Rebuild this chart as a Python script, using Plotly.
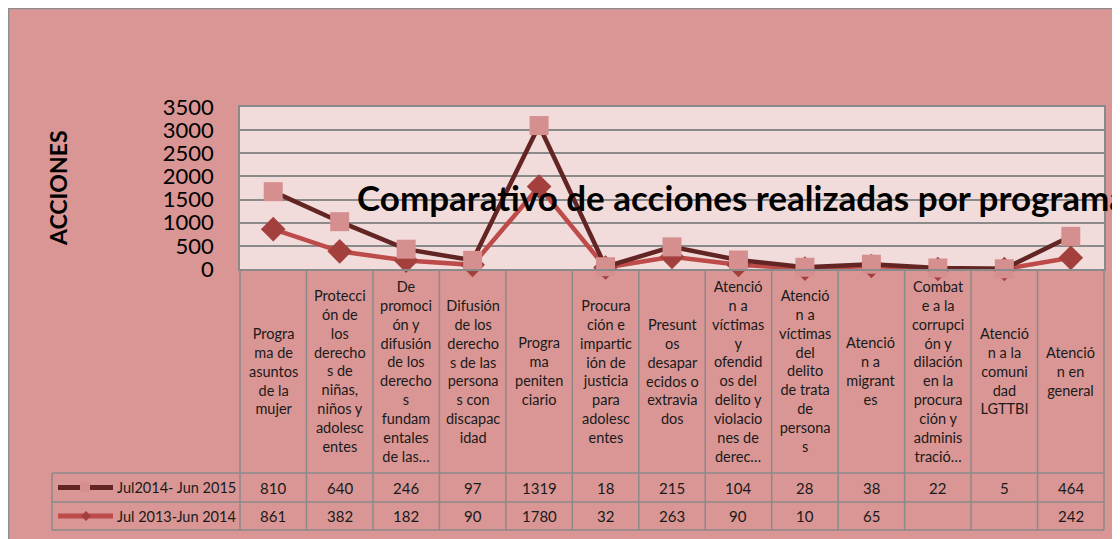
import plotly.graph_objects as go

# page is shown with an 8px body margin: the figure fills the rest of the window
OFF = 8
W, H = 1120 - OFF, 539 - OFF

# ---------------- data ----------------
categories = [
    "Progra<br>ma de<br>asuntos<br>de la<br>mujer",
    "Protecci<br>ón de<br>los<br>derecho<br>s de<br>niñas,<br>niños y<br>adolesc<br>entes",
    "De<br>promoci<br>ón y<br>difusión<br>de los<br>derecho<br>s<br>fundam<br>entales<br>de las…",
    "Difusión<br>de los<br>derecho<br>s de las<br>persona<br>s con<br>discapac<br>idad",
    "Progra<br>ma<br>peniten<br>ciario",
    "Procura<br>ción e<br>impartic<br>ión de<br>justicia<br>para<br>adolesc<br>entes",
    "Presunt<br>os<br>desapar<br>ecidos o<br>extravia<br>dos",
    "Atenció<br>n a<br>víctimas<br>y<br>ofendid<br>os del<br>delito y<br>violacio<br>nes de<br>derec…",
    "Atenció<br>n a<br>víctimas<br>del<br>delito<br>de trata<br>de<br>persona<br>s",
    "Atenció<br>n a<br>migrant<br>es",
    "Combat<br>e a la<br>corrupci<br>ón y<br>dilación<br>en la<br>procura<br>ción y<br>adminis<br>tració…",
    "Atenció<br>n a la<br>comuni<br>dad<br>LGTTBI",
    "Atenció<br>n en<br>general",
]
serie_2015 = [810, 640, 246, 97, 1319, 18, 215, 104, 28, 38, 22, 5, 464]
serie_2014 = [861, 382, 182, 90, 1780, 32, 263, 90, 10, 65, None, None, 242]
name_2015 = "Jul2014- Jun 2015"
name_2014 = "Jul 2013-Jun 2014"
y_ticks = [0, 500, 1000, 1500, 2000, 2500, 3000, 3500]
title_text = "Comparativo de acciones realizadas por programa"
y_title = "ACCIONES"

# ---------------- style ----------------
BG = "#D99694"
PLOT_BG = "#F2DCDB"
GRID = "#8A8A8A"
DARK = "#632523"
RED = "#BC4B49"
RED_M = "#A3403D"
SQ = "#D58F8F"
FONT = "Lato"

# layout positions in window pixels
PL, PR, PT, PB = 240, 1104, 107, 269
LAB_B = 473
ROW1_B = 502
ROW2_B = 530
TBL_L = 52


def px(p):
    return (p - OFF) / W


def py(p):
    return 1 - (p - OFF) / H


n = len(categories)
xs = list(range(n))

fig = go.Figure()
# bottom series (blank cells plotted as zero, like the original chart)
fig.add_trace(go.Scatter(
    x=xs, y=[v if v is not None else 0 for v in serie_2014],
    stackgroup="acc", fill="none", mode="lines+markers",
    line=dict(color=RED, width=4.5),
    marker=dict(symbol="diamond", size=19, color=RED_M),
    name=name_2014, showlegend=False, cliponaxis=False,
))
# stacked series
fig.add_trace(go.Scatter(
    x=xs, y=serie_2015,
    stackgroup="acc", fill="none", mode="lines+markers",
    line=dict(color=DARK, width=4.5),
    marker=dict(symbol="square", size=19, color=SQ),
    name=name_2015, showlegend=False, cliponaxis=False,
))

shapes = []
ann = []

# grid of category/table cells
cw = (PR - PL) / n
for k in range(n + 1):
    xx = PL + k * cw
    shapes.append(dict(type="line", xref="paper", yref="paper",
                       x0=px(xx), x1=px(xx), y0=py(PB), y1=py(ROW2_B),
                       line=dict(color=GRID, width=1.5)))
for yy in (LAB_B, ROW1_B, ROW2_B):
    shapes.append(dict(type="line", xref="paper", yref="paper",
                       x0=px(TBL_L), x1=px(PR), y0=py(yy), y1=py(yy),
                       line=dict(color=GRID, width=1.5)))
shapes.append(dict(type="line", xref="paper", yref="paper",
                   x0=px(TBL_L), x1=px(TBL_L), y0=py(LAB_B), y1=py(ROW2_B),
                   line=dict(color=GRID, width=1.5)))

# legend keys inside the table
r1 = (LAB_B + ROW1_B) / 2
r2 = (ROW1_B + ROW2_B) / 2
shapes.append(dict(type="line", xref="paper", yref="paper",
                   x0=px(58), x1=px(113), y0=py(r1), y1=py(r1),
                   line=dict(color=DARK, width=5)))
shapes.append(dict(type="rect", xref="paper", yref="paper",
                   x0=px(80), x1=px(90), y0=py(r1 + 5), y1=py(r1 - 5),
                   fillcolor=SQ, line=dict(width=0)))
shapes.append(dict(type="line", xref="paper", yref="paper",
                   x0=px(58), x1=px(113), y0=py(r2), y1=py(r2),
                   line=dict(color=RED, width=5)))
cx = 86
shapes.append(dict(type="path", xref="paper", yref="paper",
                   path=f"M {px(cx-5)} {py(r2)} L {px(cx)} {py(r2-5)} L {px(cx+5)} {py(r2)} L {px(cx)} {py(r2+5)} Z",
                   fillcolor=RED_M, line=dict(width=0)))

# outer frame border (top and left)
shapes.append(dict(type="line", xref="paper", yref="paper", x0=0, x1=1, y0=1, y1=1,
                   line=dict(color="#8C8C8C", width=2.5)))
shapes.append(dict(type="line", xref="paper", yref="paper", x0=0, x1=0, y0=0, y1=1,
                   line=dict(color="#8C8C8C", width=2.5)))

# category labels
for i, lab in enumerate(categories):
    ann.append(dict(x=i, xref="x", y=py((PB + LAB_B) / 2), yref="paper",
                    text=lab, showarrow=False, align="center",
                    xanchor="center", yanchor="middle",
                    font=dict(family=FONT, size=14.5, color="#1a1a1a")))

# table values
for row_y, vals in ((r1, serie_2015), (r2, serie_2014)):
    for i, v in enumerate(vals):
        if v is None:
            continue
        ann.append(dict(x=i, xref="x", y=py(row_y), yref="paper",
                        text=str(v), showarrow=False,
                        xanchor="center", yanchor="middle",
                        font=dict(family=FONT, size=15, color="#1a1a1a")))

# legend texts
for row_y, nm in ((r1, name_2015), (r2, name_2014)):
    ann.append(dict(x=px(115), xref="paper", y=py(row_y), yref="paper",
                    text=nm, showarrow=False, xanchor="left", yanchor="middle",
                    font=dict(family=FONT, size=14.5, color="#1a1a1a")))

# title
ann.append(dict(x=px(355), xref="paper", y=py(197), yref="paper",
                text=f"<b>{title_text}</b>", showarrow=False,
                xanchor="left", yanchor="middle",
                font=dict(family=FONT, size=35, color="black")))
# y title
ann.append(dict(x=px(58), xref="paper", y=py(188), yref="paper",
                text=f"<b>{y_title}</b>", showarrow=False, textangle=-90,
                xanchor="center", yanchor="middle",
                font=dict(family=FONT, size=23, color="black")))

fig.update_layout(
    width=W, height=H, autosize=False,
    margin=dict(l=0, r=0, t=0, b=0, pad=0, autoexpand=False),
    paper_bgcolor=BG, plot_bgcolor=PLOT_BG,
    showlegend=False,
    xaxis=dict(domain=[px(PL), px(PR)], range=[-0.5, n - 0.5],
               showgrid=False, zeroline=False, showticklabels=False,
               showline=True, linecolor=GRID, linewidth=1.5, mirror=True,
               automargin=False, fixedrange=True),
    yaxis=dict(domain=[py(PB), py(PT)], range=[0, 3500],
               tickvals=y_ticks, ticktext=[str(t) for t in y_ticks],
               showgrid=True, gridcolor=GRID, gridwidth=1.5,
               zeroline=False, showline=True, linecolor=GRID, linewidth=1.5,
               mirror=True, ticks="", ticklabelstandoff=20,
               tickfont=dict(family=FONT, size=22, color="black"),
               automargin=False, fixedrange=True),
    shapes=shapes,
    annotations=ann,
)

fig.write_html("out.html")
